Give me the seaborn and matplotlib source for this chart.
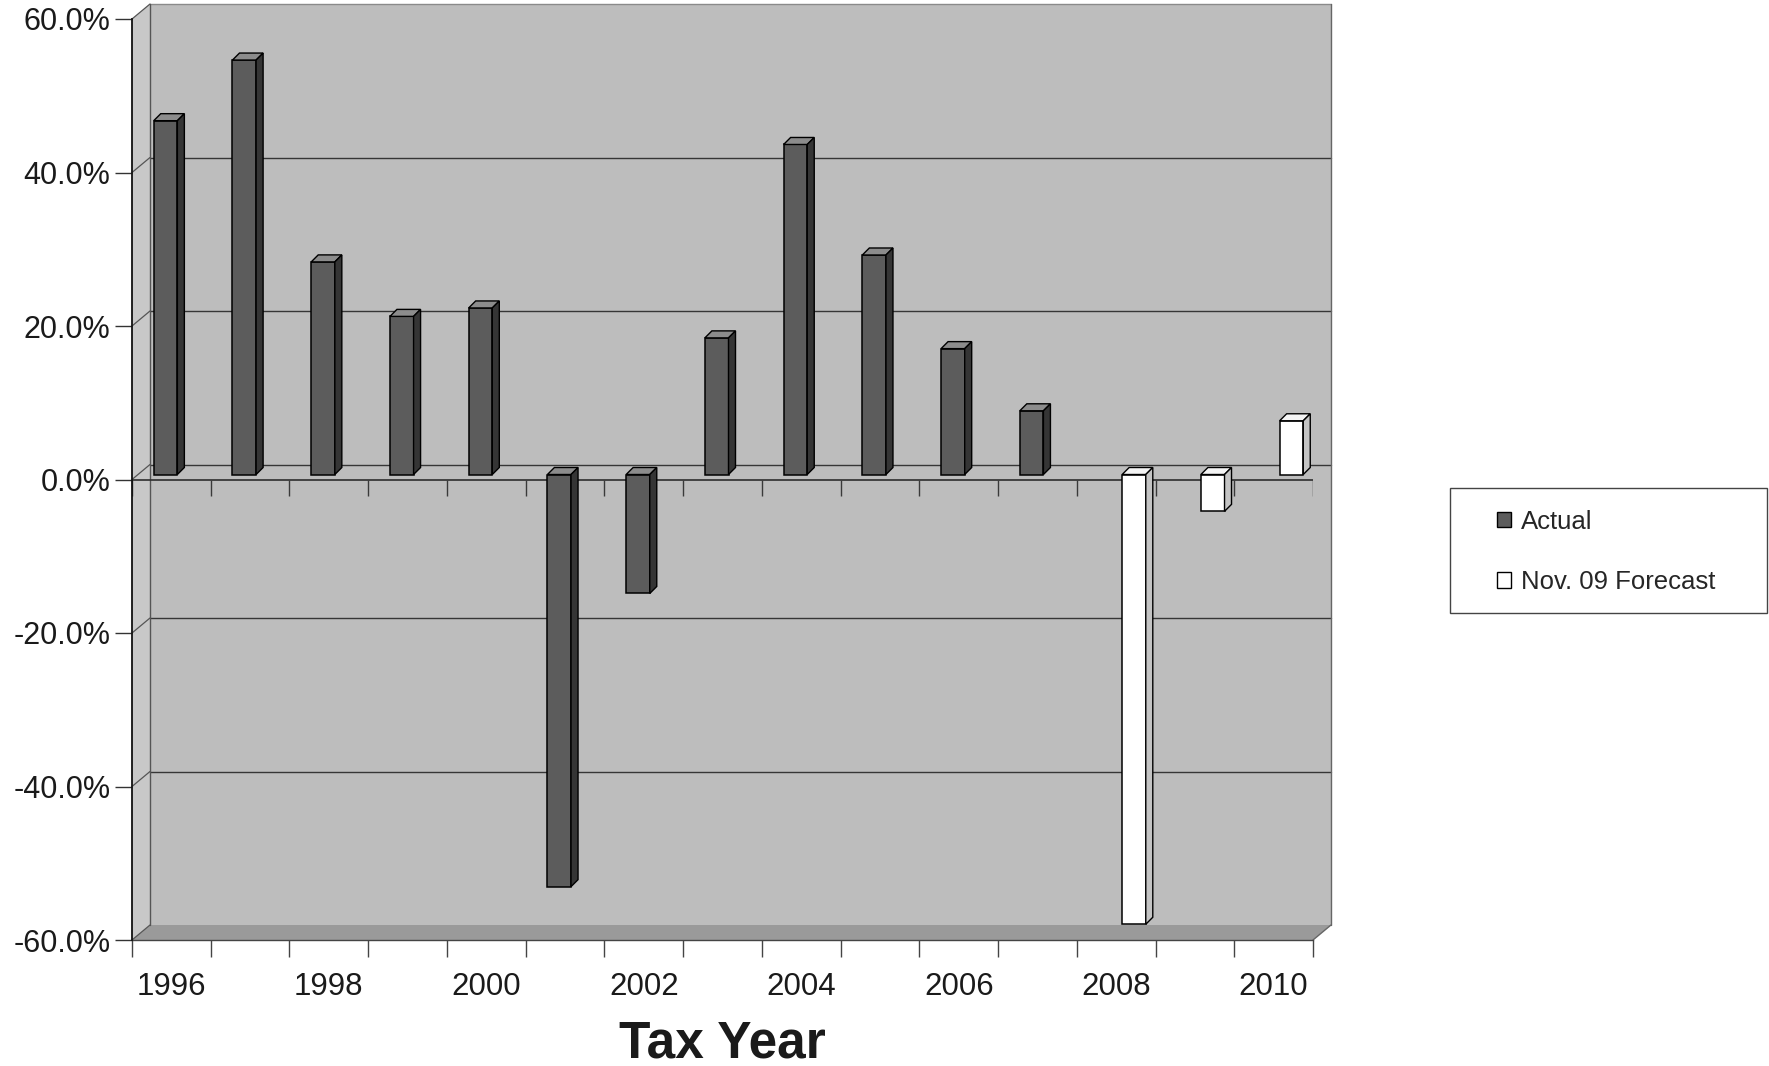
import numpy as np
import pandas as pd
import matplotlib
matplotlib.use("Agg")
import matplotlib.pyplot as plt
import matplotlib.transforms as mtransforms
from matplotlib.patches import Polygon, Rectangle
from matplotlib.lines import Line2D
import seaborn as sns

# ---- data -------------------------------------------------------------
years = [str(y) for y in range(1996, 2011)]
actual_years = [str(y) for y in range(1996, 2008)]
actual_values = [46.1, 54.0, 27.7, 20.6, 21.7, -53.7, -15.5, 17.8, 43.0, 28.6, 16.4, 8.3]
forecast_years = ["2008", "2009", "2010"]
forecast_values = [-58.6, -4.8, 7.0]
series_names = ["Actual", "Nov. 09 Forecast"]
y_ticks = [-60, -40, -20, 0, 20, 40, 60]
labelled_years = years[::2]

# ---- style ------------------------------------------------------------
sns.set_style("white")
plt.rcParams["font.family"] = ["Liberation Sans", "DejaVu Sans"]

W, H, DPI = 1769, 1066, 100
fig = plt.figure(figsize=(W / DPI, H / DPI), dpi=DPI)
fig.patch.set_facecolor("white")

# front plane of the chart box, in pixels
X0, X1, YT, YB = 132, 1313, 19, 940
ax = fig.add_axes([X0 / W, 1 - YB / H, (X1 - X0) / W, (YB - YT) / H])
ax.set_facecolor("none")

DEPTH = np.array([18.0, 15.0])      # back wall offset (right, up) in px
BAR_SHIFT = np.array([6.0, 5.0])    # bars sit a little behind the front plane
BAR_DEPTH = np.array([7.0, 7.0])    # visible thickness of each column

wall_color = "#bdbdbd"
side_wall_color = "#c8c8c8"
floor_color = "#9a9a9a"
grid_color = "#363636"

front_colors = {"Actual": "#5c5c5c", "Nov. 09 Forecast": "#ffffff"}
side_colors = {"Actual": "#353535", "Nov. 09 Forecast": "#c4c4c4"}
top_colors = {"Actual": "#8c8c8c", "Nov. 09 Forecast": "#f4f4f4"}

df = pd.DataFrame({
    "year": actual_years + forecast_years,
    "value": actual_values + forecast_values,
    "series": [series_names[0]] * len(actual_years) + [series_names[1]] * len(forecast_years),
})

sns.barplot(data=df, x="year", y="value", hue="series", order=years,
            hue_order=series_names, palette=front_colors, width=0.6, dodge=True,
            errorbar=None, edgecolor="black", linewidth=1.1, legend=False,
            ax=ax, zorder=5)
bars = [p for p in ax.patches if np.isfinite(p.get_height())]

ax.set_xlim(-0.5, len(years) - 0.5)
ax.set_ylim(-60, 60)

fig_inv = fig.transFigure.inverted()


def data_px(x, y):
    return np.array(ax.transData.transform((x, y)), dtype=float)


def add_poly(points, **kw):
    poly = Polygon(fig_inv.transform(np.array(points)), closed=True,
                   transform=fig.transFigure, clip_on=False, **kw)
    ax.add_patch(poly)
    return poly


def add_line(p, q, **kw):
    pts = fig_inv.transform(np.array([p, q]))
    ln = Line2D(pts[:, 0], pts[:, 1], transform=fig.transFigure, clip_on=False, **kw)
    ax.add_line(ln)
    return ln


xl, xr = -0.5, len(years) - 0.5
ylo, yhi = y_ticks[0], y_ticks[-1]

# ---- walls and floor --------------------------------------------------
add_poly([data_px(xl, ylo) + DEPTH, data_px(xr, ylo) + DEPTH,
          data_px(xr, yhi) + DEPTH, data_px(xl, yhi) + DEPTH],
         facecolor=wall_color, edgecolor="none", zorder=0.1)
add_poly([data_px(xl, ylo), data_px(xl, yhi),
          data_px(xl, yhi) + DEPTH, data_px(xl, ylo) + DEPTH],
         facecolor=side_wall_color, edgecolor="none", zorder=0.2)
add_poly([data_px(xl, ylo), data_px(xr, ylo),
          data_px(xr, ylo) + DEPTH, data_px(xl, ylo) + DEPTH],
         facecolor=floor_color, edgecolor="none", zorder=0.3)

for v in y_ticks:
    if ylo < v < yhi:
        add_line(data_px(xl, v) + DEPTH, data_px(xr, v) + DEPTH,
                 color=grid_color, lw=1.0, zorder=0.5)
    add_line(data_px(xl, v), data_px(xl, v) + DEPTH, color="#555555", lw=0.9, zorder=0.5)

add_line(data_px(xl, yhi) + DEPTH, data_px(xr, yhi) + DEPTH, color="#8a8a8a", lw=1.0, zorder=0.5)
add_line(data_px(xl, ylo) + DEPTH, data_px(xl, yhi) + DEPTH, color="#555555", lw=1.0, zorder=0.5)
add_line(data_px(xr, ylo) + DEPTH, data_px(xr, yhi) + DEPTH, color="#666666", lw=1.0, zorder=0.5)
add_line(data_px(xr, ylo), data_px(xr, ylo) + DEPTH, color="#666666", lw=1.0, zorder=0.5)

# ---- zero line with category ticks -------------------------------------
px_per_unit = data_px(0, 1)[1] - data_px(0, 0)[1]
ax.axhline(0, color="#2e2e2e", lw=1.2, zorder=3)
boundaries = np.arange(-0.5, len(years), 1.0)
ax.vlines(boundaries, -16 / px_per_unit, 0, color="#3a3a3a", lw=1.0, zorder=3)

# ---- 3-D faces of the columns ------------------------------------------
shift = mtransforms.ScaledTranslation(BAR_SHIFT[0] / DPI, BAR_SHIFT[1] / DPI, fig.dpi_scale_trans)
for bar in bars:
    series = series_names[0] if bar.get_facecolor()[0] < 0.9 else series_names[1]
    x, w = bar.get_x(), bar.get_width()
    y0, y1 = sorted([bar.get_y(), bar.get_y() + bar.get_height()])
    bar.set_transform(ax.transData + shift)
    bar.set_clip_on(False)
    bl = data_px(x, y0) + BAR_SHIFT
    tr = data_px(x + w, y1) + BAR_SHIFT
    xa, xb, ya, yb = bl[0], tr[0], bl[1], tr[1]
    d = BAR_DEPTH
    add_poly([(xa, yb), (xb, yb), (xb + d[0], yb + d[1]), (xa + d[0], yb + d[1])],
             facecolor=top_colors[series], edgecolor="black", lw=1.0, zorder=5)
    add_poly([(xb, ya), (xb, yb), (xb + d[0], yb + d[1]), (xb + d[0], ya + d[1])],
             facecolor=side_colors[series], edgecolor="black", lw=1.0, zorder=5)

# ---- axes, ticks and labels ---------------------------------------------
for s in ["top", "right"]:
    ax.spines[s].set_visible(False)
ax.spines["left"].set_color("#111111")
ax.spines["left"].set_linewidth(1.3)
ax.spines["bottom"].set_color("#444444")
ax.spines["bottom"].set_linewidth(1.0)
ax.spines["left"].set_zorder(6)

ax.set_yticks(y_ticks)
ax.set_yticklabels([f"{v:.1f}%" for v in y_ticks])
ax.tick_params(axis="y", left=True, length=12, width=1.0, color="#333333",
               pad=3.5, labelsize=22, labelcolor="#1a1a1a", direction="out")

ax.set_xticks(range(len(years)))
ax.set_xticklabels([y if y in labelled_years else "" for y in years])
ax.set_xticks(boundaries, minor=True)
ax.tick_params(axis="x", which="major", bottom=True, length=0, pad=23,
               labelsize=22.5, labelcolor="#1a1a1a")
ax.tick_params(axis="x", which="minor", bottom=True, length=12, width=1.0,
               color="#444444", direction="out")

ax.set_ylabel("")
ax.set_xlabel("Tax Year", fontsize=37, fontweight="bold", color="#1a1a1a", va="baseline")
ax.xaxis.set_label_coords(0.5, -(1058 - YB) / (YB - YT))

# ---- legend ---------------------------------------------------------------
fig.add_artist(Rectangle((1450 / W, 1 - 613 / H), (1767 - 1450) / W, (613 - 488) / H,
                         transform=fig.transFigure, facecolor="white",
                         edgecolor="#444444", lw=1.0, zorder=0))
handles = [Rectangle((0, 0), 1, 1, facecolor=front_colors[s], edgecolor="black", lw=1.0)
           for s in series_names]
fig.legend(handles, series_names, loc="center left",
           bbox_to_anchor=(1497 / W, 1 - 552 / H), frameon=False, fontsize=18.5,
           handlelength=0.55, handleheight=0.55, handletextpad=0.4,
           labelspacing=1.42, borderpad=0, borderaxespad=0)

fig.savefig("out.png", dpi=DPI)
